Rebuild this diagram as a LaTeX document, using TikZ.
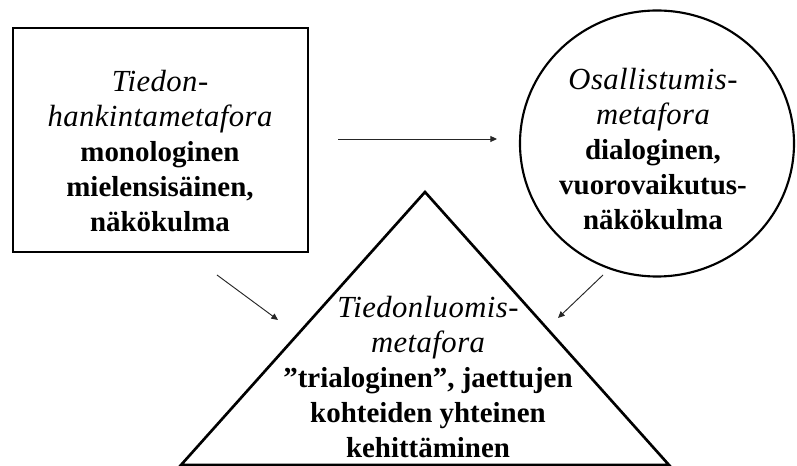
\documentclass[tikz,border=0pt]{standalone}
\usepackage{fontspec}
\setmainfont{Liberation Serif}
\newfontfamily\itfam[LetterSpace=1.5]{Liberation Serif Italic}
\usetikzlibrary{arrows.meta}
\newcommand{\itl}[1]{{\itfam\fontsize{23pt}{26.25pt}\selectfont #1}}
\begin{document}
\begin{tikzpicture}[x=0.75pt,y=-0.75pt,
  txt/.style={align=center,inner sep=0pt,font=\fontsize{21.7pt}{26.25pt}\selectfont},
  conn/.style={draw=black!85,line width=0.7pt,-{Triangle[length=5pt,width=4.5pt]}}]
\useasboundingbox (0,0) rectangle (797,466);
\clip (0,0) rectangle (797,466);
\fill[white] (0,0) rectangle (797,466);
% shapes
\draw[line width=2.2pt] (13,28) rectangle (308,252);
\draw[line width=1.6pt] (657,143.5) ellipse [x radius=137, y radius=133];
\coordinate (apex) at (425,192);
\coordinate (bl) at (181,465);
\coordinate (br) at (669,465);
\draw[line width=2pt,line join=miter] (bl) -- (apex) -- (br) -- cycle;
% texts
\node[txt] (hank) at (160,151) {\itl{Tiedon-}\\\itl{hankintametafora}\\\textbf{monologinen}\\\textbf{mielensisäinen,}\\\textbf{näkökulma}};
\node[txt] (osal) at (653,149) {\itl{Osallistumis-}\\\itl{metafora}\\\textbf{dialoginen,}\\\textbf{vuorovaikutus-}\\\textbf{näkökulma}};
\node[txt] (luom) at (428,377) {\itl{Tiedonluomis-}\\\itl{metafora}\\\textbf{”trialoginen”, jaettujen}\\\textbf{kohteiden yhteinen}\\\textbf{kehittäminen}};
% arrows
\coordinate (a1s) at (338,139);
\coordinate (a1e) at (497,139);
\coordinate (a2s) at (217,275);
\coordinate (a2e) at (278,320);
\coordinate (a3s) at (603,275);
\coordinate (a3e) at (558,318);
\draw[conn] (a1s) -- (a1e);
\draw[conn] (a2s) -- (a2e);
\draw[conn] (a3s) -- (a3e);
\end{tikzpicture}
\end{document}
